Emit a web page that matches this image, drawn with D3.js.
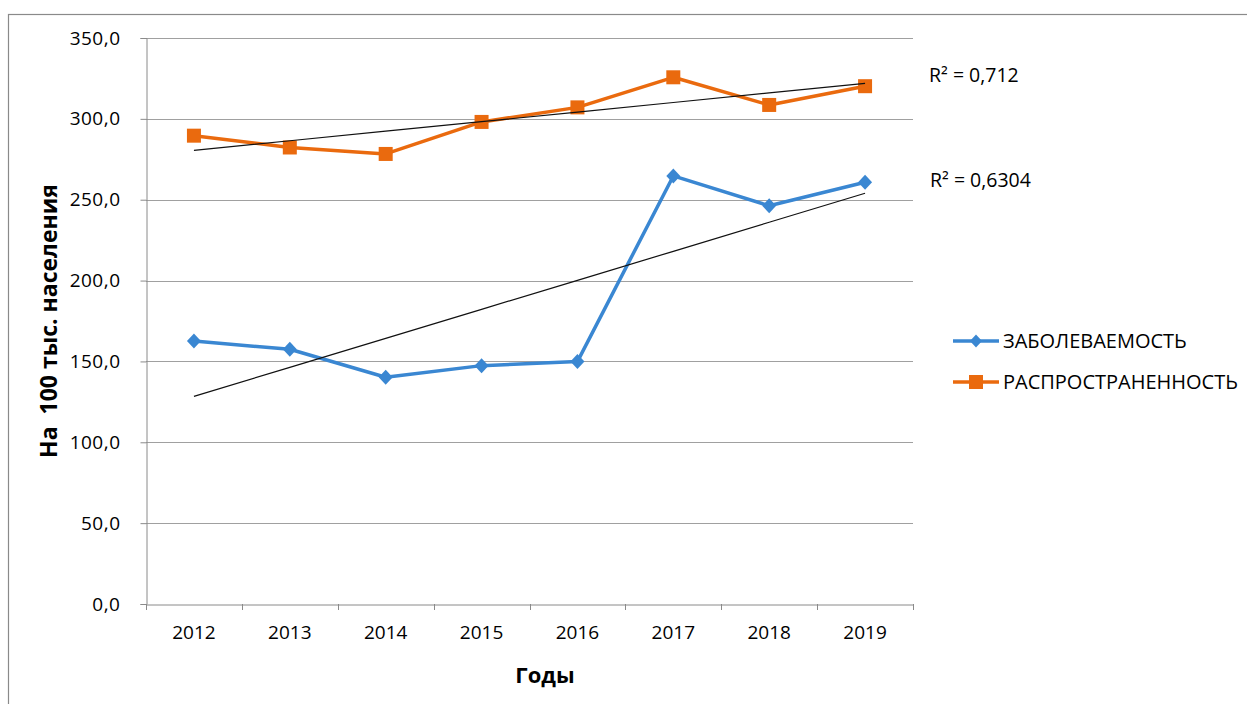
<!DOCTYPE html>
<html>
<head>
<meta charset="utf-8">
<script src="https://cdn.jsdelivr.net/npm/d3@7"></script>
<style>
  html, body { margin: 0; padding: 0; background: #fff; }
  svg { display: block; }
  text { font-family: "Open Sans", "Noto Sans", sans-serif; fill: #000; }
</style>
</head>
<body>
<svg id="chart" width="1247" height="704"></svg>
<script>
// Years on the category axis
const years = ["2012", "2013", "2014", "2015", "2016", "2017", "2018", "2019"];
// Incidence per 100 thousand population
const incidence = [162.6, 157.5, 140.2, 147.4, 149.9, 264.7, 246.3, 260.8];
// Prevalence per 100 thousand population
const prevalence = [289.6, 282.3, 278.3, 298.1, 307.1, 325.7, 308.6, 320.2];
// Y axis ticks
const yTicks = [0, 50, 100, 150, 200, 250, 300, 350];
// Series names and trend-line R² labels
const seriesNames = ["ЗАБОЛЕВАЕМОСТЬ", "РАСПРОСТРАНЕННОСТЬ"];
const r2Labels = ["R² = 0,6304", "R² = 0,712"];

const colors = ["#3a87d2", "#ea6a0e"];

const svg = d3.select("#chart");

// outer frame
svg.append("rect")
  .attr("x", 8.5).attr("y", 14.5)
  .attr("width", 1260).attr("height", 720)
  .attr("fill", "none").attr("stroke", "#8a8a8a").attr("stroke-width", 1.2);

const plot = { left: 146, right: 913, top: 38, bottom: 604 };

const x = d3.scaleBand().domain(years).range([plot.left, plot.right]);
const y = d3.scaleLinear().domain([0, 350]).range([plot.bottom, plot.top]);
const cx = d => x(d) + x.bandwidth() / 2;

const fmt = v => d3.format(".1f")(v).replace(".", ",");

// diamond marker path of given half-width / half-height
const diamondPath = (w, h) => `M0,${-h}L${w},0L0,${h}L${-w},0Z`;

// horizontal gridlines
svg.append("g").selectAll("line").data(yTicks.filter(t => t > 0)).join("line")
  .attr("x1", plot.left).attr("x2", plot.right)
  .attr("y1", d => Math.round(y(d)) + 0.5).attr("y2", d => Math.round(y(d)) + 0.5)
  .attr("stroke", "#a0a0a0").attr("stroke-width", 1.2);

// y axis
const yAxis = svg.append("g")
  .attr("transform", `translate(${plot.left + 0.5},0)`)
  .call(d3.axisLeft(y).tickValues(yTicks).tickSize(6).tickPadding(20).tickFormat(fmt));
yAxis.select(".domain").attr("stroke", "#8a8a8a");
yAxis.selectAll(".tick line").attr("stroke", "#8a8a8a");
yAxis.selectAll("text")
  .style("font-family", "'Open Sans', sans-serif")
  .style("font-size", "19px").attr("fill", "#000")
  .attr("letter-spacing", "0.5px");

// x axis with ticks on category boundaries
const xAxis = svg.append("g")
  .attr("transform", `translate(0,${plot.bottom + 0.5})`)
  .call(d3.axisBottom(x).tickSize(0).tickPadding(21));
xAxis.select(".domain").attr("stroke", "#8a8a8a");
xAxis.selectAll("text")
  .style("font-family", "'Liberation Sans Narrow', 'Open Sans', sans-serif")
  .style("font-size", "19px").attr("fill", "#000");
const bounds = years.map(d => x(d)).concat([plot.right]);
svg.append("g").selectAll("line").data(bounds).join("line")
  .attr("x1", d => Math.round(d) + 0.5).attr("x2", d => Math.round(d) + 0.5)
  .attr("y1", plot.bottom).attr("y2", plot.bottom + 6)
  .attr("stroke", "#8a8a8a");

// axis titles
svg.append("text")
  .attr("x", 545).attr("y", 683)
  .attr("text-anchor", "middle")
  .style("font-size", "22px").style("font-weight", "bold")
  .style("font-family", "'Liberation Sans Narrow', 'Open Sans', sans-serif")
  .text("Годы");
svg.append("text")
  .attr("transform", "translate(57,321) rotate(-90)")
  .attr("text-anchor", "middle")
  .style("font-size", "23px").style("font-weight", "bold")
  .style("font-family", "'Liberation Sans Narrow', 'Open Sans', sans-serif")
  .attr("xml:space", "preserve")
  .text("На  100 тыс. населения");

// linear trend lines (least squares over category index)
function trend(values) {
  const xs = values.map((_, i) => i + 1);
  const mx = d3.mean(xs), my = d3.mean(values);
  const sxy = d3.sum(xs, (xi, i) => (xi - mx) * (values[i] - my));
  const sxx = d3.sum(xs, xi => (xi - mx) ** 2);
  const b = sxy / sxx, a = my - b * mx;
  return xs.map(xi => a + b * xi);
}

const series = [incidence, prevalence];
const line = d3.line().x((d, i) => cx(years[i])).y(d => y(d));

series.forEach((vals, k) => {
  svg.append("path")
    .datum(vals)
    .attr("d", line)
    .attr("fill", "none")
    .attr("stroke", colors[k])
    .attr("stroke-width", 3.5)
    .attr("stroke-linejoin", "round");
});

// markers
svg.append("g").selectAll("path").data(incidence).join("path")
  .attr("transform", (d, i) => `translate(${cx(years[i])},${y(d)})`)
  .attr("d", diamondPath(7, 7.5))
  .attr("fill", colors[0]);
svg.append("g").selectAll("rect").data(prevalence).join("rect")
  .attr("x", (d, i) => cx(years[i]) - 7).attr("y", d => y(d) - 7)
  .attr("width", 14).attr("height", 14)
  .attr("fill", colors[1]);

// trend lines drawn on top
series.forEach(vals => {
  const t = trend(vals);
  svg.append("path")
    .datum(t)
    .attr("d", line)
    .attr("fill", "none")
    .attr("stroke", "#111")
    .attr("stroke-width", 1.2);
});

// R² labels
svg.append("text").attr("x", 929).attr("y", 82)
  .style("font-size", "19.5px").text(r2Labels[1]);
svg.append("text").attr("x", 930).attr("y", 187)
  .style("font-size", "19.5px").text(r2Labels[0]);

// legend
const legendY = [341, 382];
seriesNames.forEach((name, k) => {
  const g = svg.append("g");
  g.append("line")
    .attr("x1", 953).attr("x2", 999)
    .attr("y1", legendY[k]).attr("y2", legendY[k])
    .attr("stroke", colors[k]).attr("stroke-width", 3.5);
  if (k === 0) {
    g.append("path")
      .attr("transform", `translate(976,${legendY[k]})`)
      .attr("d", diamondPath(6, 6.5))
      .attr("fill", colors[k]);
  } else {
    g.append("rect")
      .attr("x", 969).attr("y", legendY[k] - 7)
      .attr("width", 14).attr("height", 14)
      .attr("fill", colors[k]);
  }
  g.append("text")
    .attr("x", 1003).attr("y", legendY[k] + 7)
    .style("font-size", "20px")
    .text(name);
});
</script>
</body>
</html>
